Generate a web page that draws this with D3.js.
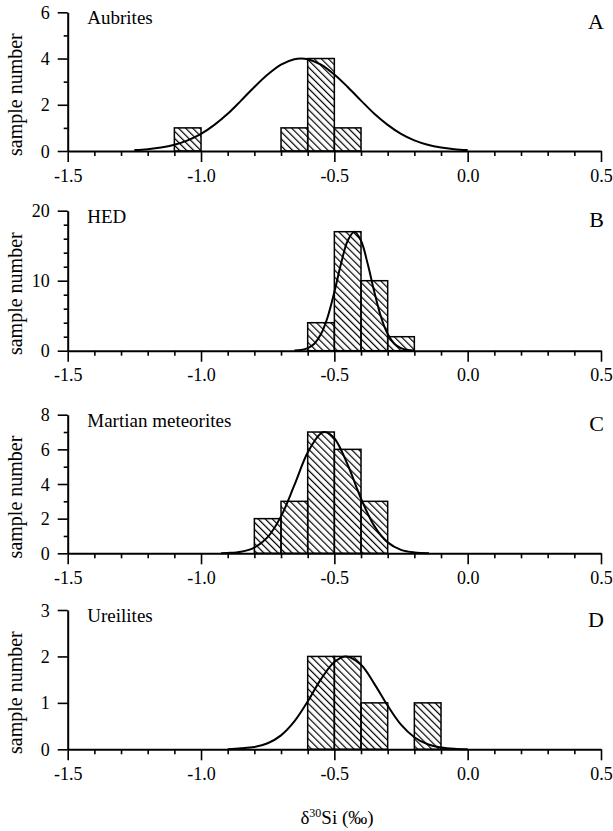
<!DOCTYPE html>
<html>
<head>
<meta charset="utf-8">
<script src="https://cdn.jsdelivr.net/npm/d3@7"></script>
<style>
  body { margin: 0; background: #fff; }
  text { font-family: "Liberation Serif", "Times New Roman", serif; fill: #000; }
</style>
</head>
<body>
<div id="chart"></div>
<script>
// x axis (delta 30Si, permil)
var xTicks = [-1.5, -1.0, -0.5, 0.0, 0.5];
var binWidth = 0.1;

// panel names
var panelNames = ["Aubrites", "HED", "Martian meteorites", "Ureilites"];
var panelLetters = ["A", "B", "C", "D"];

// histogram bins (left edge) and counts
var aubritesBins = [-1.1, -0.7, -0.6, -0.5];
var aubritesCounts = [1, 1, 4, 1];
var hedBins = [-0.6, -0.5, -0.4, -0.3];
var hedCounts = [4, 17, 10, 2];
var martianBins = [-0.8, -0.7, -0.6, -0.5, -0.4];
var martianCounts = [2, 3, 7, 6, 3];
var ureiliteBins = [-0.6, -0.5, -0.4, -0.2];
var ureiliteCounts = [2, 2, 1, 1];

// fitted curves, points
var aubritesFitX = [-1.25, -1.2, -1.15, -1.1, -1.05, -1.0, -0.95, -0.9, -0.85, -0.8, -0.75, -0.7, -0.65, -0.625,
  -0.6, -0.55, -0.5, -0.45, -0.4, -0.35, -0.3, -0.25, -0.2, -0.15, -0.1, -0.05, 0.0];
var aubritesFitY = [0.04, 0.08, 0.15, 0.27, 0.46, 0.74, 1.13, 1.61, 2.18, 2.77, 3.31, 3.74, 3.97, 4.0,
  3.97, 3.74, 3.31, 2.77, 2.18, 1.61, 1.13, 0.74, 0.46, 0.27, 0.15, 0.08, 0.04];
var hedFitX = [-0.65, -0.625, -0.6, -0.575, -0.55, -0.525, -0.5, -0.475, -0.45, -0.425,
  -0.4, -0.375, -0.35, -0.325, -0.3, -0.275, -0.25, -0.225, -0.2];
var hedFitY = [0.03, 0.11, 0.36, 1.0, 2.38, 4.82, 8.37, 12.41, 15.71, 17.0,
  15.71, 12.41, 8.37, 4.82, 2.38, 1.0, 0.36, 0.11, 0.03];
var martianFitX = [-0.925, -0.9, -0.85, -0.8, -0.75, -0.7, -0.65, -0.6, -0.55, -0.535,
  -0.5, -0.45, -0.4, -0.35, -0.3, -0.25, -0.2, -0.145];
var martianFitY = [0.01, 0.02, 0.09, 0.33, 0.93, 2.13, 3.93, 5.82, 6.93, 7.0,
  6.64, 5.11, 3.16, 1.57, 0.63, 0.2, 0.05, 0.01];
var ureiliteFitX = [-0.9, -0.85, -0.8, -0.75, -0.7, -0.65, -0.6, -0.55, -0.5, -0.455,
  -0.4, -0.35, -0.3, -0.25, -0.2, -0.15, -0.1, -0.05, 0.0];
var ureiliteFitY = [0.0, 0.02, 0.05, 0.13, 0.3, 0.6, 1.03, 1.51, 1.88, 2.0,
  1.82, 1.41, 0.94, 0.53, 0.26, 0.11, 0.04, 0.01, 0.0];

// y axes
var yMax = [6, 20, 8, 3];
var yMajor = [[0, 2, 4, 6], [0, 10, 20], [0, 2, 4, 6, 8], [0, 1, 2, 3]];
var yMinor = [[1, 3, 5], [2, 4, 6, 8, 12, 14, 16, 18], [1, 3, 5, 7], []];

var panels = panelNames.map(function(name, i) {
  return {
    name: name,
    letter: panelLetters[i],
    bins: [aubritesBins, hedBins, martianBins, ureiliteBins][i],
    counts: [aubritesCounts, hedCounts, martianCounts, ureiliteCounts][i],
    fitX: [aubritesFitX, hedFitX, martianFitX, ureiliteFitX][i],
    fitY: [aubritesFitY, hedFitY, martianFitY, ureiliteFitY][i],
    yMax: yMax[i], yMajor: yMajor[i], yMinor: yMinor[i]
  };
});

var width = 613, height = 831;
var left = 67.7, right = 601;
var tops = [12.3, 210.7, 414.7, 610];
var bottoms = [151, 350.7, 553.3, 749.3];

var svg = d3.select("#chart").append("svg")
  .attr("width", width)
  .attr("height", height);

// "\\\" hatching of the bars
var pat = svg.append("defs").append("pattern")
  .attr("id", "hatch")
  .attr("patternUnits", "userSpaceOnUse")
  .attr("width", 5)
  .attr("height", 10)
  .attr("patternTransform", "rotate(-45)");
pat.append("line")
  .attr("x1", 0).attr("y1", 0).attr("x2", 0).attr("y2", 10)
  .attr("stroke", "#000").attr("stroke-width", 2.4);

var x = d3.scaleLinear().domain([-1.5, 0.5]).range([left, right]);
var xMinor = d3.range(-14, 5).map(function(d) { return d / 10; }).filter(function(d) { return xTicks.indexOf(d) < 0; });

panels.forEach(function(p, i) {
  var g = svg.append("g");
  var y = d3.scaleLinear().domain([0, p.yMax]).range([bottoms[i], tops[i]]);

  // bars
  g.selectAll("rect")
    .data(p.bins)
    .enter()
    .append("rect")
      .attr("x", function(d) { return x(d); })
      .attr("width", function(d) { return x(d + binWidth) - x(d); })
      .attr("y", function(d, j) { return y(p.counts[j]); })
      .attr("height", function(d, j) { return y(0) - y(p.counts[j]); })
      .attr("fill", "url(#hatch)")
      .attr("stroke", "#000")
      .attr("stroke-width", 1.5);

  // fit curve
  var line = d3.line()
    .x(function(d) { return x(d); })
    .y(function(d, j) { return y(p.fitY[j]); })
    .curve(d3.curveCatmullRom);
  g.append("path")
    .datum(p.fitX)
    .attr("d", line)
    .attr("fill", "none")
    .attr("stroke", "#000")
    .attr("stroke-width", 2);

  // x axis
  var xa = g.append("g").attr("transform", "translate(0," + bottoms[i] + ")");
  xa.call(d3.axisBottom(x).tickValues(xTicks).tickSize(11).tickSizeOuter(0)
    .tickFormat(function(d) { return d.toFixed(1); }));
  xa.append("g").call(d3.axisBottom(x).tickValues(xMinor).tickSize(5).tickFormat(""))
    .select(".domain").remove();
  xa.selectAll(".domain").attr("stroke-width", 2);
  xa.selectAll(".tick line").attr("stroke-width", 1.6);
  xa.selectAll("text")
    .attr("y", 30.7).attr("dy", 0)
    .style("font-size", "18px")
    .style("font-family", "Liberation Serif");

  // y axis
  var ya = g.append("g").attr("transform", "translate(" + left + ",0)");
  ya.call(d3.axisLeft(y).tickValues(p.yMajor).tickSize(10).tickSizeOuter(0)
    .tickFormat(d3.format("d")));
  ya.append("g").call(d3.axisLeft(y).tickValues(p.yMinor).tickSize(4).tickFormat(""))
    .select(".domain").remove();
  ya.selectAll(".domain").attr("stroke-width", 2);
  ya.selectAll(".tick line").attr("stroke-width", 1.6);
  ya.selectAll("text")
    .attr("x", -18).attr("dy", "0.34em")
    .style("font-size", "18px")
    .style("font-family", "Liberation Serif");

  // y title
  g.append("text")
    .attr("transform", "translate(22," + ((tops[i] + bottoms[i]) / 2 + 13) + ") rotate(-90)")
    .attr("text-anchor", "middle")
    .style("font-size", "20px")
    .text("sample number");

  // panel name and letter
  g.append("text")
    .attr("x", 87.3)
    .attr("y", tops[i] + 12)
    .style("font-size", "19px")
    .text(p.name);
  g.append("text")
    .attr("x", 604)
    .attr("y", tops[i] + 16.5)
    .attr("text-anchor", "end")
    .style("font-size", "22px")
    .text(p.letter);
});

// x title
var xt = svg.append("text")
  .attr("x", 337)
  .attr("y", 824)
  .attr("text-anchor", "middle")
  .style("font-size", "19px");
xt.append("tspan").text("\u03B4");
xt.append("tspan").attr("dy", -7).style("font-size", "12px").text("30");
xt.append("tspan").attr("dy", 7).text("Si (\u2030)");
</script>
</body>
</html>
